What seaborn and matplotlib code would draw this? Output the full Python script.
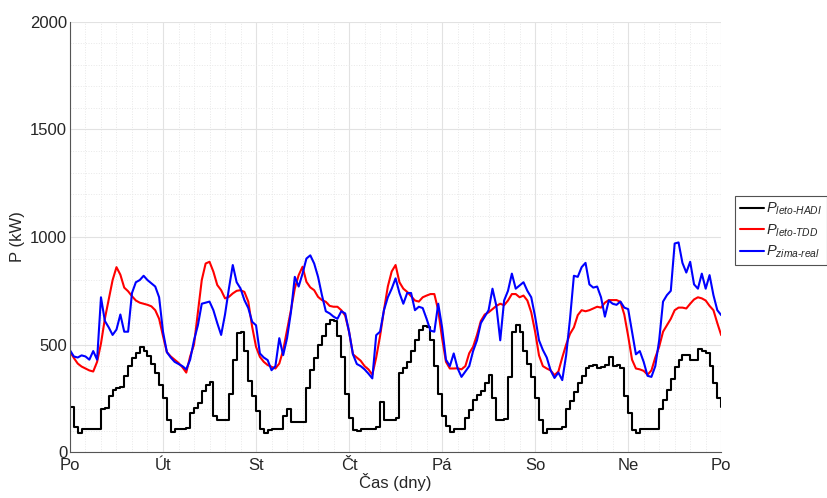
import numpy as np
import matplotlib
matplotlib.use("Agg")
import matplotlib.pyplot as plt
import seaborn as sns
from matplotlib.ticker import MultipleLocator

# hodinove hodnoty za tyden (0..168 h), kW
hours = np.arange(169)

p_hadi = [210, 118, 90, 108, 110, 110, 110, 110, 203, 205, 262, 290, 300, 305, 355, 400, 440, 460, 490, 470, 445, 410, 370, 310, 250, 150, 95, 110, 110, 110, 112, 180, 205, 230,
          285, 310, 327, 170, 150, 150, 150, 270, 430, 555, 560, 470, 330, 260, 190, 110, 87, 105, 110, 110, 110, 170, 200, 141, 141, 141, 141, 300, 380, 440, 500, 540, 598,
          614, 610, 540, 443, 270, 160, 102, 100, 110, 110, 110, 110, 115, 234, 149, 149, 149, 160, 366, 390, 420, 470, 521, 570, 586, 580, 520, 400, 270, 170, 120, 95, 110, 110,
          110, 157, 195, 242, 265, 285, 320, 358, 250, 150, 150, 152, 350, 560, 590, 560, 470, 412, 350, 250, 150, 87, 110, 110, 110, 110, 115, 200, 240, 280, 320, 355, 390,
          400, 405, 390, 397, 405, 443, 400, 405, 390, 260, 180, 102, 87, 110, 110, 110, 110, 110, 200, 242, 290, 342, 397, 430, 451, 451, 430, 430, 480, 470, 460, 400, 320, 250, 210]

p_tdd = [467, 438, 412, 398, 389, 380, 375, 420, 505, 620, 710, 800, 860, 825, 765, 748, 725, 705, 695, 690, 685, 678, 660, 620, 540, 465, 445, 430, 415, 395, 370, 445, 500, 650,
         800, 877, 885, 839, 777, 753, 715, 722, 738, 750, 753, 745, 700, 583, 490, 443, 420, 405, 397, 389, 412, 474, 567, 660, 761, 823, 862, 792, 766, 753, 722, 707, 699,
         680, 676, 676, 660, 635, 560, 455, 440, 425, 400, 385, 360, 440, 540, 660, 770, 840, 870, 790, 760, 745, 725, 705, 700, 720, 728, 735, 735, 660, 530, 420, 389, 389, 390,
         385, 400, 460, 490, 545, 610, 640, 650, 665, 680, 690, 683, 705, 735, 735, 720, 728, 705, 650, 560, 450, 400, 389, 380, 358, 375, 440, 500, 550, 580, 637, 660, 655,
         660, 668, 676, 672, 695, 707, 707, 707, 699, 640, 540, 430, 389, 385, 378, 360, 380, 440, 490, 560, 590, 620, 660, 672, 672, 668, 690, 710, 720, 715, 705, 680, 660, 600, 544]

p_zima = [474, 445, 440, 450, 445, 430, 470, 430, 720, 610, 580, 545, 570, 640, 560, 560, 740, 790, 800, 820, 800, 785, 770, 720, 560, 465, 440, 420, 410, 400, 385, 430, 520, 590,
          690, 695, 700, 660, 600, 545, 640, 760, 870, 790, 761, 707, 670, 606, 590, 459, 440, 428, 381, 400, 530, 451, 530, 650, 815, 770, 830, 900, 915, 877, 815, 730, 655,
          645, 630, 620, 655, 645, 560, 455, 410, 400, 385, 365, 343, 544, 560, 660, 720, 760, 808, 740, 690, 740, 740, 660, 676, 670, 620, 565, 560, 690, 580, 430, 400, 459, 390,
          350, 375, 400, 470, 520, 600, 630, 660, 760, 680, 520, 705, 750, 830, 760, 775, 790, 750, 720, 630, 520, 475, 440, 380, 345, 370, 335, 450, 620, 820, 815, 860, 880,
          780, 765, 770, 720, 630, 705, 690, 685, 700, 672, 665, 560, 455, 470, 420, 355, 350, 400, 520, 700, 730, 750, 970, 975, 880, 835, 885, 780, 760, 830, 760, 823, 730, 660, 637]

day_labels = ['Po', 'Út', 'St', 'Čt', 'Pá', 'So', 'Ne', 'Po']

sns.set_theme(style="white")
plt.rcParams['font.family'] = ['Liberation Sans', 'DejaVu Sans']
plt.rcParams['mathtext.fontset'] = 'custom'
plt.rcParams['mathtext.rm'] = 'Liberation Sans'
plt.rcParams['mathtext.it'] = 'Liberation Sans:italic'

fig = plt.figure(figsize=(8.28, 4.98), dpi=100)
ax = fig.add_axes([0.0845, 0.092, 0.7865, 0.864])

sns.lineplot(x=hours, y=p_hadi, color='black', lw=1.5, drawstyle='steps-post',
             label=r'$P_{leto\text{-}HADI}$', ax=ax)
sns.lineplot(x=hours, y=p_tdd, color='#ff0000', lw=1.5,
             label=r'$P_{leto\text{-}TDD}$', ax=ax)
sns.lineplot(x=hours, y=p_zima, color='#0000ff', lw=1.5,
             label=r'$P_{zima\text{-}real}$', ax=ax)

ax.set_xlim(0, 168)
ax.set_ylim(0, 2000)
ax.set_xticks(np.arange(0, 169, 24))
ax.set_xticklabels(day_labels)
ax.set_yticks([0, 500, 1000, 1500, 2000])
ax.xaxis.set_minor_locator(MultipleLocator(4))
ax.yaxis.set_minor_locator(MultipleLocator(100))
ax.grid(which='major', color='#e2e2e2', lw=0.8)
ax.grid(which='minor', color='#e8e8e8', lw=0.7, ls=':')
ax.set_axisbelow(True)
ax.tick_params(which='both', direction='in', length=4, colors='#262626', labelsize=12, pad=2)
ax.tick_params(axis='x', pad=4)
ax.tick_params(which='minor', length=0)
for s in ['top', 'right']:
    ax.spines[s].set_visible(False)
for s in ['left', 'bottom']:
    ax.spines[s].set_color('#555555')
    ax.spines[s].set_linewidth(0.8)

ax.set_xlabel('Čas (dny)', fontsize=12, color='#262626', labelpad=0)
ax.set_ylabel('P (kW)', fontsize=12, color='#262626', labelpad=4)

leg = ax.legend(loc='upper left', bbox_to_anchor=(0.888, 0.607), bbox_transform=fig.transFigure,
                fontsize=10.5, frameon=True, fancybox=False, borderaxespad=0,
                handlelength=1.6, handletextpad=0.15, labelspacing=0.35, borderpad=0.35)
leg.get_frame().set_edgecolor('#262626')
leg.get_frame().set_linewidth(0.8)

fig.savefig('out.png', dpi=100)
